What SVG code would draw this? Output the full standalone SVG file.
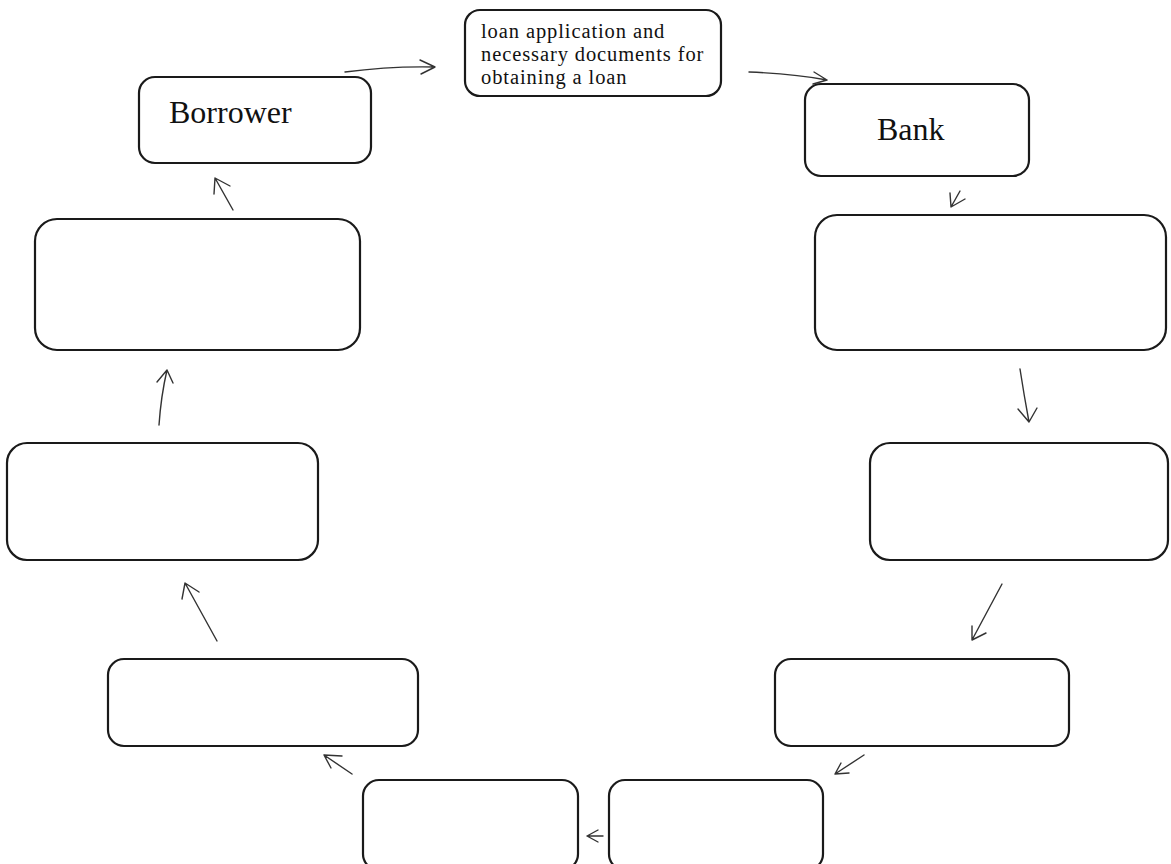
<svg xmlns="http://www.w3.org/2000/svg" width="1171" height="864" viewBox="0 0 1171 864">
  <defs>
    <style>
      .box { fill: #ffffff; stroke: #1a1a1a; stroke-width: 2.2; }
      .lbl { font-family: "Liberation Serif", "Times New Roman", serif; fill: #111111; }
      .arr { fill: none; stroke: #333333; stroke-width: 1.4; stroke-linecap: round; stroke-linejoin: round; }
    </style>
  </defs>
  <rect width="1171" height="864" fill="#ffffff"/>

  <!-- nodes -->
  <g id="borrower">
    <rect class="box" x="139" y="77" width="232" height="86" rx="16"/>
    <text class="lbl" x="169" y="123" font-size="32">Borrower</text>
  </g>
  <g id="documents">
    <rect class="box" x="465" y="10" width="256" height="86" rx="15"/>
    <text class="lbl" font-size="20.5" letter-spacing="0.9">
      <tspan x="481" y="38">loan application and</tspan>
      <tspan x="481" y="61">necessary documents for</tspan>
      <tspan x="481" y="84">obtaining a loan</tspan>
    </text>
  </g>
  <g id="bank">
    <rect class="box" x="805" y="84" width="224" height="92" rx="16"/>
    <text class="lbl" x="877" y="140" font-size="32">Bank</text>
  </g>
  <g id="step-r1">
    <rect class="box" x="815" y="215" width="351" height="135" rx="22"/>
  </g>
  <g id="step-r2">
    <rect class="box" x="870" y="443" width="298" height="117" rx="20"/>
  </g>
  <g id="step-r3">
    <rect class="box" x="775" y="659" width="294" height="87" rx="16"/>
  </g>
  <g id="step-b2">
    <rect class="box" x="609" y="780" width="214" height="90" rx="16"/>
  </g>
  <g id="step-b1">
    <rect class="box" x="363" y="780" width="215" height="90" rx="16"/>
  </g>
  <g id="step-l4">
    <rect class="box" x="108" y="659" width="310" height="87" rx="16"/>
  </g>
  <g id="step-l3">
    <rect class="box" x="7" y="443" width="311" height="117" rx="20"/>
  </g>
  <g id="step-l2">
    <rect class="box" x="35" y="219" width="325" height="131" rx="22"/>
  </g>

  <!-- connectors: hand-drawn style arrows -->
  <g id="connectors">
    <path class="arr" d="M345,72 Q390,66 435,67 M420,60 L435,67 L421,74"/>
    <path class="arr" d="M749,72 Q795,74 827,80 M814,72 L827,80 L813,84"/>
    <path class="arr" d="M960,191 L951,207 M950,193 L951,207 L965,199"/>
    <path class="arr" d="M1020,369 Q1024,395 1029,422 M1018,409 L1029,422 L1037,408"/>
    <path class="arr" d="M1002,584 L972,640 M972,626 L972,640 L986,633"/>
    <path class="arr" d="M864,755 L835,774 M841,763 L835,774 L849,773"/>
    <path class="arr" d="M603,836 L587,836 M598,830 L587,836 L598,842"/>
    <path class="arr" d="M352,774 L324,755 M331,768 L324,755 L342,756"/>
    <path class="arr" d="M217,641 L185,583 M182,599 L185,583 L199,592"/>
    <path class="arr" d="M159,425 Q161,396 167,370 M157,382 L167,370 L173,383"/>
    <path class="arr" d="M233,210 L215,178 M214,194 L215,178 L230,186"/>
  </g>
</svg>
